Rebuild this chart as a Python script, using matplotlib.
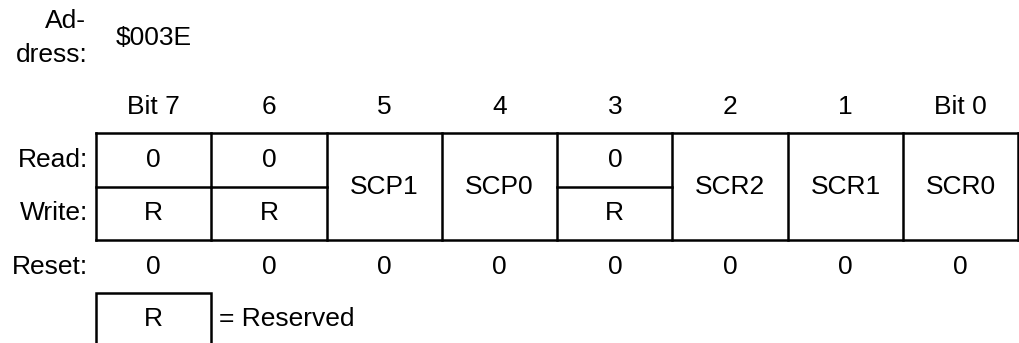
import matplotlib
matplotlib.use("Agg")
import matplotlib.pyplot as plt

plt.rcParams['font.family'] = ['Liberation Sans', 'DejaVu Sans']

# register contents
address = "$003E"
bit_labels = ["Bit 7", "6", "5", "4", "3", "2", "1", "Bit 0"]
read_vals = ["0", "0", "SCP1", "SCP0", "0", "SCR2", "SCR1", "SCR0"]
write_vals = ["R", "R", None, None, "R", None, None, None]   # None = merged read/write field
reset_vals = ["0", "0", "0", "0", "0", "0", "0", "0"]
row_labels = ["Read:", "Write:", "Reset:"]

# layout (pixels)
x0, col_w = 96, 115.3
y_top, y_mid, y_bot = 133, 187, 240
fs = 19
lw = 1.8

fig = plt.figure(figsize=(10.2, 3.43), dpi=100)
ax = fig.add_axes([0, 0, 1, 1])
ax.set_xlim(0, 1020)
ax.set_ylim(343, 0)
ax.axis('off')

ax.text(86, 21, "Ad-", ha='right', va='center', fontsize=fs)
ax.text(88, 55, "dress:", ha='right', va='center', fontsize=fs)
ax.text(116, 38, address, ha='left', va='center', fontsize=fs)

ax.text(88, (y_top + y_mid) / 2, row_labels[0], ha='right', va='center', fontsize=fs)
ax.text(88, (y_mid + y_bot) / 2, row_labels[1], ha='right', va='center', fontsize=fs)
ax.text(88, 267, row_labels[2], ha='right', va='center', fontsize=fs)

n = len(bit_labels)
x_end = x0 + n * col_w
ax.plot([x0, x_end], [y_top, y_top], color='black', lw=lw, solid_capstyle='projecting')
ax.plot([x0, x_end], [y_bot, y_bot], color='black', lw=lw, solid_capstyle='projecting')
for i in range(n + 1):
    x = x0 + i * col_w
    ax.plot([x, x], [y_top, y_bot], color='black', lw=lw)

for i in range(n):
    cx = x0 + (i + 0.5) * col_w
    ax.text(cx, 107, bit_labels[i], ha='center', va='center', fontsize=fs)
    ax.text(cx, 267, reset_vals[i], ha='center', va='center', fontsize=fs)
    if write_vals[i] is None:
        ax.text(cx, (y_top + y_bot) / 2, read_vals[i], ha='center', va='center', fontsize=fs)
    else:
        xl, xr = x0 + i * col_w, x0 + (i + 1) * col_w
        ax.plot([xl, xr], [y_mid, y_mid], color='black', lw=lw)
        ax.text(cx, (y_top + y_mid) / 2, read_vals[i], ha='center', va='center', fontsize=fs)
        ax.text(cx, (y_mid + y_bot) / 2, write_vals[i], ha='center', va='center', fontsize=fs)

# legend
ly = 293
ax.plot([x0, x0, x0 + col_w, x0 + col_w], [350, ly, ly, 350], color='black', lw=lw,
        solid_joinstyle='miter')
ax.text(x0 + col_w / 2, 319, "R", ha='center', va='center', fontsize=fs)
ax.text(x0 + col_w + 8, 319, "= Reserved", ha='left', va='center', fontsize=fs)

fig.savefig("out.png", dpi=100)
